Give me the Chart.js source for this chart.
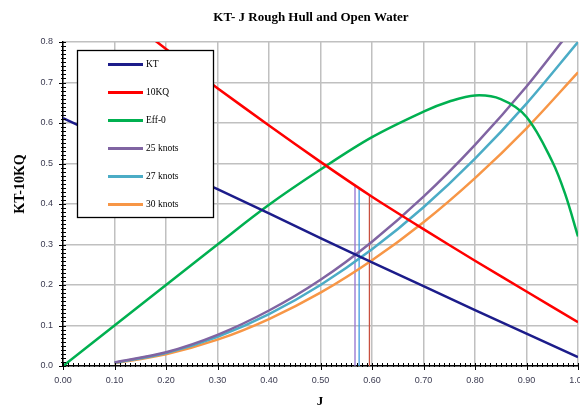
<!DOCTYPE html>
<html>
<head>
<meta charset="utf-8">
<title>KT- J Rough Hull and Open Water</title>
<script src="https://cdn.jsdelivr.net/npm/chart.js@4.4.1/dist/chart.umd.min.js"></script>
<style>
    html, body { margin: 0; padding: 0; background: #fff; }
    #wrap { width: 580px; height: 409px; }
</style>
</head>
<body>
<div id="wrap"><canvas id="kt-chart" width="580" height="409"></canvas></div>
<script>
// Advance coefficient J and open water curves
const jGrid = [0, 0.1, 0.2, 0.3, 0.4, 0.5, 0.6, 0.7, 0.8, 0.9, 1.0];
const ktValues = [0.612, 0.553, 0.495, 0.437, 0.377, 0.316, 0.256, 0.197, 0.138, 0.080, 0.022];

const kqJ = [0.1, 0.2, 0.3, 0.4, 0.5, 0.6, 0.7, 0.8, 0.9, 1.0];
const tenKqValues = [0.880, 0.783, 0.686, 0.594, 0.504, 0.418, 0.338, 0.260, 0.184, 0.108];

const effJ = [0, 0.1, 0.2, 0.3, 0.4, 0.5, 0.6, 0.7, 0.75, 0.8, 0.85, 0.9, 0.95, 0.975, 1.0];
const effValues = [0, 0.100, 0.200, 0.300, 0.398, 0.485, 0.565, 0.628, 0.653, 0.668, 0.659, 0.615, 0.505, 0.425, 0.320];

// Rough hull load lines
const speedJ = [0.1, 0.2, 0.3, 0.4, 0.5, 0.6, 0.7, 0.8, 0.9, 1.0];
const kt25Knots = [0.009, 0.034, 0.077, 0.137, 0.213, 0.307, 0.418, 0.546, 0.690, 0.852];
const kt27Knots = [0.008, 0.032, 0.072, 0.128, 0.200, 0.288, 0.392, 0.512, 0.648, 0.800];
const kt30Knots = [0.007, 0.029, 0.065, 0.116, 0.181, 0.261, 0.355, 0.464, 0.587, 0.725];

// Operating points: J where load line meets KT, line drawn up to 10KQ
const opJ = [0.567, 0.575, 0.595];
const opTop = [0.447, 0.441, 0.423];
const opColors = ['#9370d0', '#3d9be0', '#c8503f'];

const xTicks = [0, 0.1, 0.2, 0.3, 0.4, 0.5, 0.6, 0.7, 0.8, 0.9, 1.0];
const yTicks = [0, 0.1, 0.2, 0.3, 0.4, 0.5, 0.6, 0.7, 0.8];

function pairs(xs, ys) {
    return xs.map((x, i) => ({ x: x, y: ys[i] }));
}

function curve(label, xs, ys, color, extra) {
    return Object.assign({
        label: label,
        data: pairs(xs, ys),
        showLine: true,
        borderColor: color,
        backgroundColor: color,
        borderWidth: 2.5,
        pointRadius: 0,
        clip: 0
    }, extra || {});
}

const datasets = [
    curve('KT', jGrid, ktValues, '#1c1c8a'),
    curve('10KQ', kqJ, tenKqValues, '#ff0000', { tension: 0.2 }),
    curve('Eff-0', effJ, effValues, '#00b050', { tension: 0.35 }),
    curve('25 knots', speedJ, kt25Knots, '#8064a2', { cubicInterpolationMode: 'monotone' }),
    curve('27 knots', speedJ, kt27Knots, '#4bacc6', { cubicInterpolationMode: 'monotone' }),
    curve('30 knots', speedJ, kt30Knots, '#f79646', { cubicInterpolationMode: 'monotone' })
];

opJ.forEach((j, i) => {
    datasets.push({
        label: '',
        opLine: true,
        data: [{ x: j, y: 0 }, { x: j, y: opTop[i] }],
        showLine: true,
        borderColor: opColors[i],
        borderWidth: 1.3,
        pointRadius: 0
    });
});

// Minor ticks, legend box and titles
const decorPlugin = {
    id: 'decor',
    afterDraw(chart) {
        const ctx = chart.ctx;
        const area = chart.chartArea;
        const xs = chart.scales.x;
        const ys = chart.scales.y;
        ctx.save();

        // minor / major tick marks
        ctx.strokeStyle = '#000';
        ctx.lineWidth = 1;
        for (let i = 0; i <= 100; i++) {
            const px = Math.round(xs.getPixelForValue(i / 100)) + 0.5;
            const major = i % 10 === 0;
            ctx.beginPath();
            ctx.moveTo(px, area.bottom - 3);
            ctx.lineTo(px, area.bottom + (major ? 4 : 1));
            ctx.stroke();
        }
        for (let i = 0; i <= 80; i++) {
            const py = Math.round(ys.getPixelForValue(i / 100)) + 0.5;
            const major = i % 10 === 0;
            ctx.beginPath();
            ctx.moveTo(area.left - (major ? 4 : 2), py);
            ctx.lineTo(area.left + 3, py);
            ctx.stroke();
        }

        // legend box
        const box = { x: 77.5, y: 50.5, w: 136, h: 167 };
        ctx.fillStyle = '#fff';
        ctx.fillRect(box.x, box.y, box.w, box.h);
        ctx.strokeStyle = '#000';
        ctx.lineWidth = 1.3;
        ctx.strokeRect(box.x, box.y, box.w, box.h);

        const items = chart.data.datasets.filter(d => !d.opLine);
        ctx.font = '9.5px "Liberation Serif", serif';
        ctx.textBaseline = 'middle';
        ctx.textAlign = 'left';
        items.forEach((d, i) => {
            const rowY = 64.5 + i * 28;
            ctx.strokeStyle = d.borderColor;
            ctx.lineWidth = 3;
            ctx.beginPath();
            ctx.moveTo(108, rowY);
            ctx.lineTo(143, rowY);
            ctx.stroke();
            ctx.fillStyle = '#000';
            ctx.fillText(d.label, 146, rowY);
        });

        // chart title and axis titles
        ctx.fillStyle = '#000';
        ctx.textAlign = 'center';
        ctx.font = 'bold 13px "Liberation Serif", serif';
        ctx.fillText('KT- J Rough Hull and Open Water', 311, 18);
        ctx.fillText('J', 320, 402);
        ctx.translate(20, 184);
        ctx.rotate(-Math.PI / 2);
        ctx.font = 'bold 14px "Liberation Serif", serif';
        ctx.fillText('KT-10KQ', 0, 0);

        ctx.restore();
    }
};

function createChart() {
    const ctx = document.getElementById('kt-chart').getContext('2d');
    return new Chart(ctx, {
        type: 'scatter',
        data: { datasets: datasets },
        options: {
            responsive: false,
            animation: false,
            devicePixelRatio: 1,
            layout: { padding: { top: 42, right: 2, left: 0, bottom: 0 } },
            plugins: {
                legend: { display: false },
                tooltip: { enabled: false },
                title: { display: false }
            },
            scales: {
                x: {
                    type: 'linear',
                    min: 0,
                    max: 1,
                    afterFit: s => { s.height = 43; s.paddingLeft = 0; s.paddingRight = 0; },
                    afterBuildTicks: s => { s.ticks = xTicks.map(v => ({ value: v })); },
                    ticks: {
                        autoSkip: false,
                        maxRotation: 0,
                        padding: 9,
                        color: '#3a3a50',
                        font: { family: '"Liberation Sans", sans-serif', size: 9 },
                        callback: v => v.toFixed(2)
                    },
                    grid: { color: '#c0c0c0', lineWidth: 1.5, drawTicks: false },
                    border: { color: '#000', width: 1.5 }
                },
                y: {
                    type: 'linear',
                    min: 0,
                    max: 0.8,
                    afterFit: s => { s.width = 63; s.paddingTop = 0; s.paddingBottom = 0; },
                    afterBuildTicks: s => { s.ticks = yTicks.map(v => ({ value: v })); },
                    ticks: {
                        autoSkip: false,
                        padding: 10,
                        color: '#3a3a50',
                        font: { family: '"Liberation Sans", sans-serif', size: 9 },
                        callback: v => v.toFixed(1)
                    },
                    grid: { color: '#c0c0c0', lineWidth: 1.5, drawTicks: false },
                    border: { color: '#000', width: 1.5 }
                }
            }
        },
        plugins: [decorPlugin]
    });
}

createChart();
</script>
</body>
</html>
